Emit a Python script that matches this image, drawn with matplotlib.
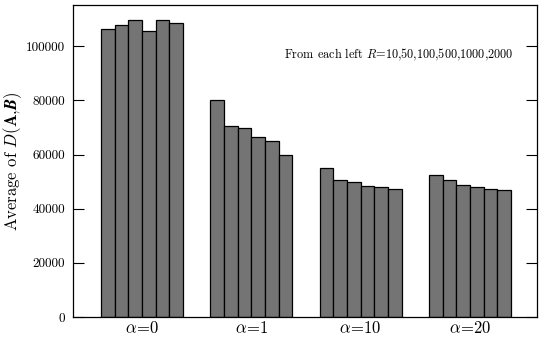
import matplotlib
matplotlib.use("Agg")
import matplotlib.pyplot as plt
import numpy as np

plt.rcParams['font.family'] = ['cmr10', 'DejaVu Serif']
plt.rcParams['mathtext.fontset'] = 'cm'
plt.rcParams['axes.formatter.use_mathtext'] = True

# data
groups = [r'$\alpha\!=\!0$', r'$\alpha\!=\!1$', r'$\alpha\!=\!10$', r'$\alpha\!=\!20$']
R_values = [10, 50, 100, 500, 1000, 2000]
avg_alpha0 = [106300, 107800, 109500, 105400, 109700, 108600]
avg_alpha1 = [80000, 70600, 69900, 66500, 65000, 60000]
avg_alpha10 = [55000, 50700, 50000, 48500, 47900, 47400]
avg_alpha20 = [52500, 50700, 48900, 48000, 47300, 47000]
yticks = [0, 20000, 40000, 60000, 80000, 100000]

series = np.array([avg_alpha0, avg_alpha1, avg_alpha10, avg_alpha20])

fig = plt.figure(figsize=(5.42, 3.41), dpi=100)
ax = fig.add_axes([0.135, 0.07, 0.856, 0.914])

x = np.arange(len(groups))
width = 0.125
n = len(R_values)
for i in range(n):
    ax.bar(x - width * n / 2 + width * (i + 0.5), series[:, i], width,
           color='#747474', edgecolor='black', linewidth=0.9)

ax.set_xlim(-0.628, 3.613)
ax.set_ylim(0, 115000)
ax.set_xticks(x)
ax.set_xticklabels(groups, fontsize=12)
ax.set_yticks(yticks)
ax.set_yticklabels([str(v) for v in yticks], fontsize=9.5)
ax.tick_params(axis='x', length=0, pad=2)
ax.tick_params(axis='y', direction='in', length=8, width=0.8, right=True, pad=6)

ax.set_ylabel(r'Average of $D(\mathbf{A}{,}\mathbfit{B})$', fontsize=12)
ax.yaxis.set_label_coords(-0.105, 0.5)

ax.text(0.948, 0.84, r'From each left $R$=' + ','.join(str(r) for r in R_values),
        transform=ax.transAxes, ha='right', va='center', fontsize=8.8)

for s in ax.spines.values():
    s.set_linewidth(0.9)

fig.savefig('out.png', dpi=100)
